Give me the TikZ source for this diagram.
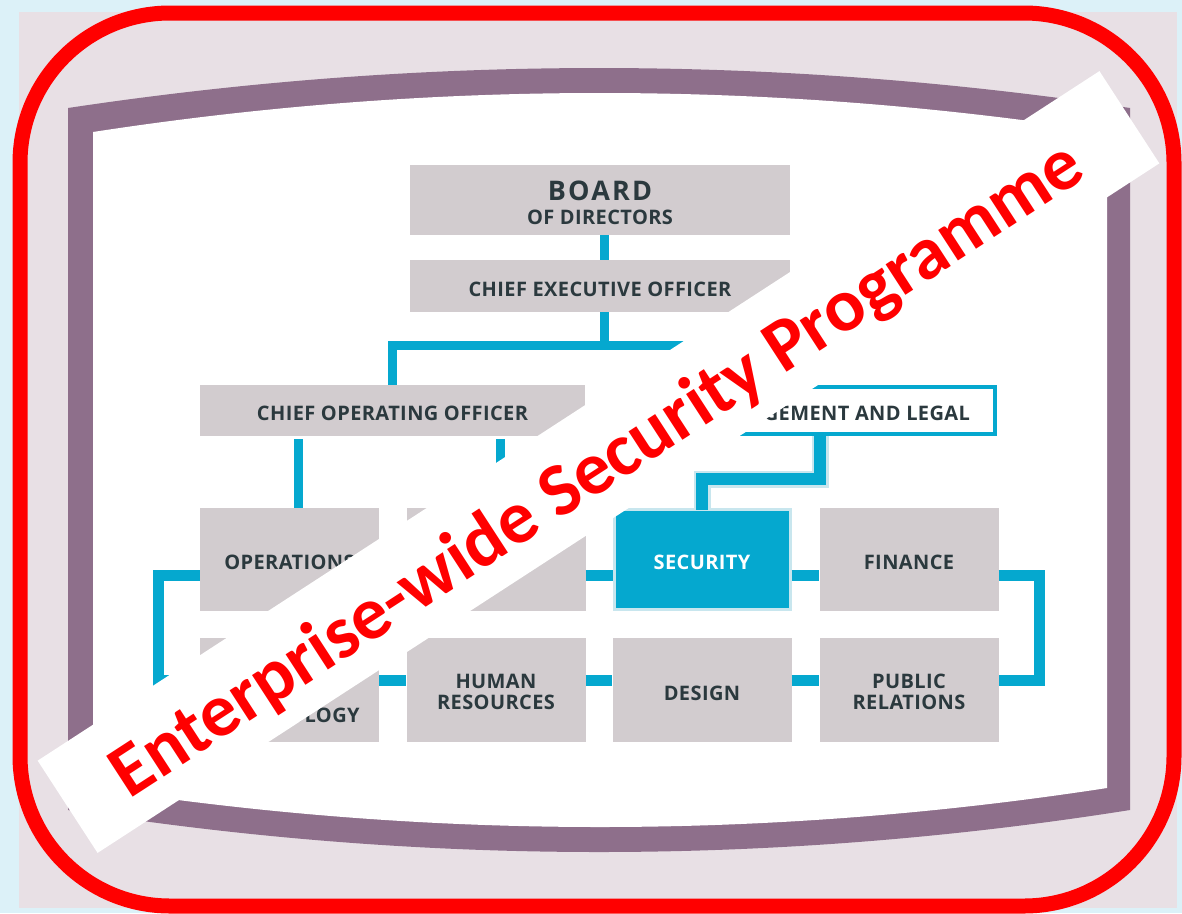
\documentclass[tikz,border=0pt]{standalone}
\usepackage{fontspec}
\usetikzlibrary{calc}
\newfontfamily\labfont{Open Sans}[LetterSpace=2]
\newfontfamily\bigfont{Open Sans}[LetterSpace=8]
\newfontfamily\banfont{Carlito}
\definecolor{bgblue}{HTML}{DCF1F8}
\definecolor{mauve}{HTML}{E8E0E5}
\definecolor{framec}{HTML}{8E6F8B}
\definecolor{boxgrey}{HTML}{D2CCCF}
\definecolor{labtxt}{HTML}{2B393E}
\definecolor{cyanc}{HTML}{05A8CF}
\definecolor{paleline}{HTML}{C8E6EE}
\definecolor{redc}{HTML}{FF0000}
\tikzset{
  lab/.style={font=\labfont\bfseries\fontsize{20}{21}\selectfont, text=labtxt, align=center, inner sep=0pt},
  oneline/.style={text height=20pt, text depth=0pt},
  gbox/.style={lab, fill=boxgrey, minimum width=179pt, minimum height=103pt},
  wbox/.style={lab, fill=boxgrey, minimum width=385pt},
  conn/.style={draw=cyanc, line width=9pt},
  conn2/.style={draw=cyanc, line width=11pt},
}
\begin{document}
\begin{tikzpicture}[x=1pt,y=-1pt]
\useasboundingbox (0,0) rectangle (1182,913);
% backgrounds
\fill[bgblue] (0,0) rectangle (1182,913);
\fill[mauve] (19,12) rectangle (1177,908);
% purple frame
\fill[framec] (68,108) .. controls (422,54.7) and (776,54.7) .. (1130,108) -- (1130,810) .. controls (776,866) and (422,866) .. (68,810) -- cycle;
\fill[white] (93,132) .. controls (431,80) and (769,80) .. (1107,132) -- (1107,788) .. controls (769,840) and (431,840) .. (93,788) -- cycle;
% top boxes
\node[wbox, minimum width=380pt, minimum height=70pt] (board) at (600,200) {};
\node[wbox, oneline, minimum width=380pt, minimum height=52pt] (ceo) at (600,286) {CHIEF EXECUTIVE OFFICER};
\node[wbox, oneline, minimum height=51pt] (coo) at (392.5,410.5) {CHIEF OPERATING OFFICER};
\node[lab, oneline, fill=white, draw=cyanc, line width=4pt, minimum width=371pt, minimum height=47pt] (risk) at (809.5,410.5) {RISK MANAGEMENT AND LEGAL};
\coordinate (split) at (604,345);
% connectors
\draw[conn] ([xshift=4pt]board.south) -- ([xshift=4pt]ceo.north);
\draw[conn] ([xshift=4pt]ceo.south) -- (split);
\draw[conn] (coo.north) |- (split) -| (risk.north);
% rows
\node[gbox] (ops) at (289.5,559.5) {};
\node[gbox] (box2) at (496,559.5) {};
\node[gbox, oneline, fill=cyanc, draw=paleline, line width=3pt, minimum width=176pt, minimum height=100pt, text=white] (sec) at (702,559.5) {SECURITY};
\node[gbox, oneline] (fin) at (909,559.5) {FINANCE};
\node[gbox, minimum height=104pt] (tech) at (289.5,690) {};
\node[gbox, minimum height=104pt] (hr) at (496,690) {};
\node[gbox, oneline, minimum height=104pt] (des) at (702,690) {DESIGN};
\node[gbox, minimum height=104pt] (pr) at (909,690) {};
% row connectors
\draw[conn2] ([yshift=-15.5pt]ops.west) -- ++(-41,0) |- ([yshift=10pt]tech.west);
\draw[conn2] ([yshift=-15.5pt]fin.east) -- ++(41,0) |- ([yshift=10pt]pr.east);
\draw[conn2] ([yshift=-15.5pt]ops.east) -- ([yshift=-15.5pt]box2.west);
\draw[conn2] ([yshift=-15.5pt]box2.east) -- ([yshift=-15.5pt]sec.west);
\draw[conn2] ([yshift=-15.5pt]sec.east) -- ([yshift=-15.5pt]fin.west);
\draw[conn2] ([yshift=10pt]tech.east) -- ([yshift=10pt]hr.west);
\draw[conn2] ([yshift=10pt]hr.east) -- ([yshift=10pt]des.west);
\draw[conn2] ([yshift=10pt]des.east) -- ([yshift=10pt]pr.west);
\draw[conn] ([xshift=8.5pt,yshift=-3pt]ops.north |- coo.south) -- ([xshift=8.5pt]ops.north);
\draw[conn] ([xshift=4pt,yshift=-3pt]box2.north |- coo.south) -- ([xshift=4pt]box2.north);
\draw[draw=paleline, line width=17pt] ([xshift=10.5pt]risk.south) -- ++(0,43) -| ([yshift=-2pt]sec.north);
\draw[draw=cyanc, line width=12pt] ([xshift=10.5pt]risk.south) -- ++(0,43) -| ([yshift=-2pt]sec.north);
% texts
\node[lab, align=center] (boardtxt) at ([yshift=-3pt]board.center) {{\bigfont\bfseries\fontsize{27}{28}\selectfont BOARD}\\[3pt]OF DIRECTORS};
\node[lab, oneline] (opstxt) at (ops.center) {OPERATIONS};
\node[lab, oneline] (techtxt) at ([yshift=-22pt]tech.center) {TECHNOLOGY};
\node[lab] (hrtxt) at ([yshift=-2pt]hr.center) {HUMAN\\RESOURCES};
\node[lab] (prtxt) at ([yshift=-2pt]pr.center) {PUBLIC\\RELATIONS};
% banner
\node[fill=white, rotate=33, minimum width=1266pt, minimum height=110pt, inner sep=0pt] (banner) at (598.5,462) {};
\node[rotate=33, anchor=base, inner sep=0pt, text=redc, font=\banfont\bfseries\fontsize{75}{80}\selectfont] (bantxt) at (609,488) {Enterprise-wide Security Programme};
% red rounded frame
\draw[redc, line width=15pt, rounded corners=150pt] (20,13) rectangle (1174,906);
\end{tikzpicture}
\end{document}
